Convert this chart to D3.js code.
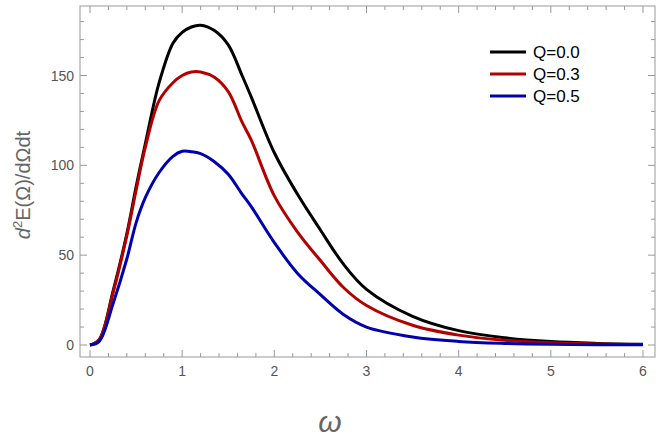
<!DOCTYPE html><html><head><meta charset="utf-8"><script src="https://d3js.org/d3.v7.min.js"></script>
<style>body{margin:0;background:#fff}svg{font-family:"Liberation Sans",Arial,sans-serif}</style></head><body><svg width="664" height="447"></svg>
<script>
const omega = [0,0.1,0.25,0.4,0.5,0.6,0.75,0.9,1.0,1.1,1.2,1.35,1.5,1.65,1.75,2.0,2.25,2.5,2.75,3.0,3.5,4.0,4.5,5.0,5.5,6.0];
const q00 = [0,3,30,62,88,112,146,168,174,177,178,175,167,150,138,107,84,64,45,31,16,8,4,1.9,0.9,0.4];
const q03 = [0,3,29,61,86,110,136,146,150,152,152,149,141,124,114,83,63,47,32,22,11,5.5,2.6,1.2,0.6,0.25];
const q05 = [0,2,23,48,68,82,96,105,107.8,107.6,106.5,102,95,84,77,57,40,28,17,10,4.5,2,0.9,0.4,0.2,0.1];
const seriesNames = ["Q=0.0","Q=0.3","Q=0.5"];
const colors = ["#000000","#b30000","#0000b0"];
const xTicks=[0,1,2,3,4,5,6], yTicks=[0,50,100,150];
const svg=d3.select("svg");
const x=d3.scaleLinear().domain([0,6]).range([90,643]);
const y=d3.scaleLinear().domain([0,150]).range([345,75.5]);
const L=80,R=655,T=6,B=357;
const g=svg.append("g").attr("stroke","#999").attr("stroke-width",1);
g.append("rect").attr("x",L).attr("y",T).attr("width",R-L).attr("height",B-T).attr("fill","none");
d3.range(0,6.01,0.2).forEach(v=>{const major=Math.abs(v-Math.round(v))<1e-6;const l=major?7:4;
 g.append("line").attr("x1",x(v)).attr("x2",x(v)).attr("y1",B).attr("y2",B-l);
 g.append("line").attr("x1",x(v)).attr("x2",x(v)).attr("y1",T).attr("y2",T+l);});
d3.range(0,190,10).forEach(v=>{if(y(v)<T)return;const major=v%50===0;const l=major?7:4;
 g.append("line").attr("y1",y(v)).attr("y2",y(v)).attr("x1",L).attr("x2",L+l);
 g.append("line").attr("y1",y(v)).attr("y2",y(v)).attr("x1",R).attr("x2",R-l);});
xTicks.forEach(v=>svg.append("text").attr("x",x(v)).attr("y",B+19).attr("text-anchor","middle").attr("font-size",14).attr("fill","#555").text(v));
yTicks.forEach(v=>svg.append("text").attr("x",L-6).attr("y",y(v)+5).attr("text-anchor","end").attr("font-size",14).attr("fill","#555").text(v));
const data=[q00,q03,q05];
data.forEach((s,i)=>{svg.append("path").datum(s.map((v,j)=>[omega[j],v])).attr("fill","none").attr("stroke",colors[i]).attr("stroke-width",3)
 .attr("d",d3.line().x(d=>x(d[0])).y(d=>y(d[1])).curve(d3.curveCatmullRom.alpha(0.5)));
 const ly=52+i*22;
 svg.append("line").attr("x1",490).attr("x2",526).attr("y1",ly).attr("y2",ly).attr("stroke",colors[i]).attr("stroke-width",3);
 svg.append("text").attr("x",533).attr("y",ly+6).attr("font-size",17).attr("fill","#000").text(seriesNames[i]);});
const yl=svg.append("text").attr("transform","translate(30,185) rotate(-90)").attr("text-anchor","middle").attr("font-size",20).attr("fill","#666");
yl.append("tspan").attr("font-style","italic").text("d");yl.append("tspan").attr("font-size",13).attr("dy",-8).text("2");
yl.append("tspan").attr("dy",8).text("E(Ω)/dΩdt");
svg.append("text").attr("x",330).attr("y",432).attr("text-anchor","middle").attr("font-size",30).attr("font-style","italic").attr("fill","#666").text("ω");
</script></body></html>
